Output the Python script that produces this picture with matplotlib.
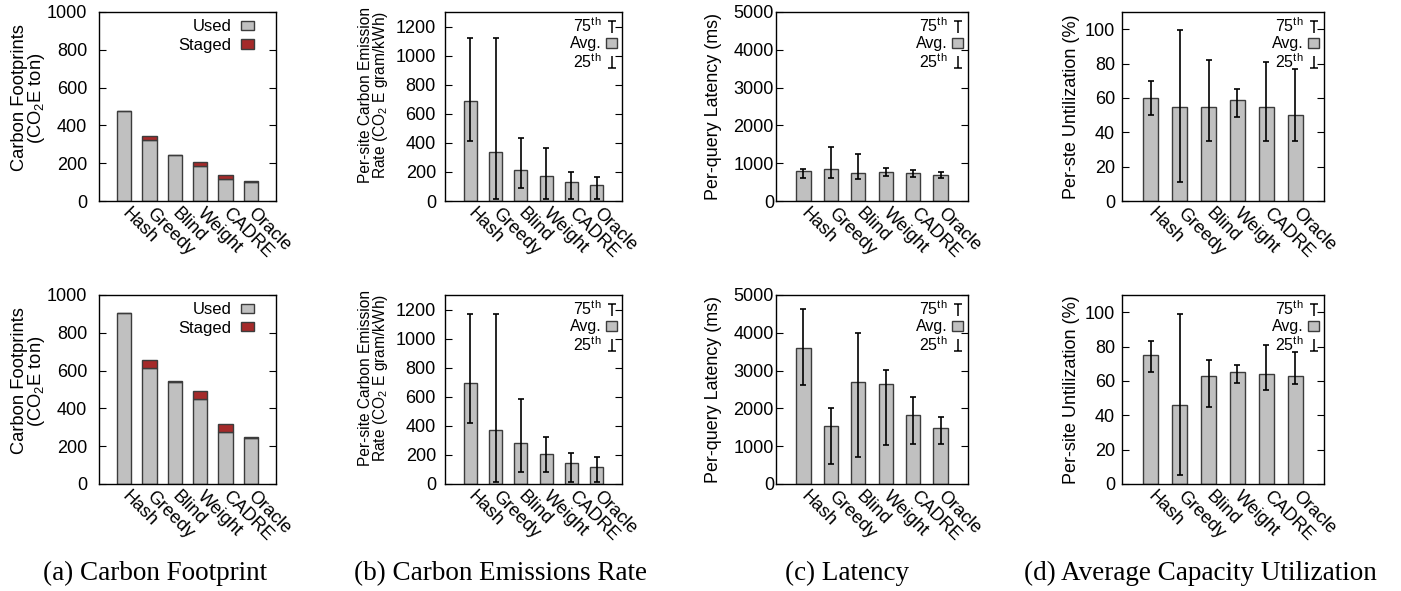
import numpy as np
import matplotlib.pyplot as plt
from matplotlib.patches import Patch
from matplotlib.lines import Line2D
from matplotlib.path import Path

plt.rcParams['font.family'] = ['Liberation Sans', 'DejaVu Sans']
plt.rcParams['mathtext.fontset'] = 'custom'
plt.rcParams['mathtext.rm'] = 'Liberation Sans'
plt.rcParams['mathtext.it'] = 'Liberation Sans:italic'

cats = ['Hash', 'Greedy', 'Blind', 'Weight', 'CADRE', 'Oracle']

# (a) carbon footprint, top and bottom rows
used_top = [475, 325, 241, 187, 115, 103]
staged_top = [2, 18, 3, 20, 20, 5]
used_bot = [903, 614, 540, 450, 274, 244]
staged_bot = [3, 44, 3, 42, 43, 5]

# (b) carbon emission rate
rate_avg_top = [691, 338, 212, 171, 128, 107]
rate_p75_top = [1120, 1120, 436, 365, 198, 164]
rate_p25_top = [410, 16, 87, 16, 16, 16]
rate_avg_bot = [694, 368, 280, 207, 147, 115]
rate_p75_bot = [1166, 1166, 586, 322, 216, 184]
rate_p25_bot = [423, 11, 83, 83, 11, 11]

# (c) latency
lat_avg_top = [795, 848, 733, 777, 733, 689]
lat_p75_top = [838, 1440, 1245, 883, 813, 777]
lat_p25_top = [618, 620, 583, 671, 636, 618]
lat_avg_bot = [3602, 1540, 2708, 2637, 1832, 1469]
lat_p75_bot = [4620, 2009, 4000, 3018, 2292, 1770]
lat_p25_bot = [2620, 540, 717, 1035, 1053, 1053]

# (d) utilization
util_avg_top = [60, 54.5, 55, 58.5, 54.5, 50]
util_p75_top = [70, 99.4, 82, 65, 81, 77]
util_p25_top = [50, 11, 35, 49, 35, 35]
util_avg_bot = [75, 46, 63, 65, 64, 63]
util_p75_bot = [83, 99, 72, 69, 81, 77]
util_p25_bot = [65, 5, 45, 59, 55, 58]

captions = ['(a) Carbon Footprint', '(b) Carbon Emissions Rate',
            '(c) Latency', '(d) Average Capacity Utilization']

GRAY = '#c0c0c0'
EDGE = '#3c3c3c'
RED = '#a52a2a'
TICK_FS = 13
LEG_FS = 11.5

W, H = 1401, 591
x = np.arange(len(cats))

# T and inverted T marker shapes for the percentile legend
t_marker = Path([(-0.8, 1), (0.8, 1), (0, 1), (0, -1)],
                [Path.MOVETO, Path.LINETO, Path.MOVETO, Path.LINETO])
bt_marker = Path([(-0.8, -1), (0.8, -1), (0, -1), (0, 1)],
                 [Path.MOVETO, Path.LINETO, Path.MOVETO, Path.LINETO])


def make_axes(fig, x0, x1, y0, y1, ypad):
    ax = fig.add_axes([x0 / W, 1 - y1 / H, (x1 - x0) / W, (y1 - y0) / H])
    ax.set_xlim(-1, 6)
    ax.tick_params(axis='y', direction='in', right=True, length=5, labelsize=TICK_FS, pad=ypad)
    ax.tick_params(axis='x', length=0, pad=7)
    ax.set_xticks(x)
    ax.set_xticklabels(cats, rotation=-45, ha='left', va='center', rotation_mode='anchor',
                       fontsize=13)
    for s in ax.spines.values():
        s.set_linewidth(1.0)
    return ax


def footprint_panel(ax, used, staged):
    ax.bar(x, used, width=0.57, color=GRAY, edgecolor=EDGE, linewidth=1.0)
    ax.bar(x, staged, bottom=used, width=0.57, color=RED, edgecolor=EDGE, linewidth=1.0)
    ax.set_ylim(0, 1000)
    ax.set_yticks(np.arange(0, 1001, 200))
    ax.set_ylabel('Carbon Footprints\n(CO$_2$E ton)', fontsize=13.2, linespacing=0.85)
    ax.yaxis.set_label_coords(-0.293, 0.545)
    handles = [Patch(facecolor=GRAY, edgecolor=EDGE), Patch(facecolor=RED, edgecolor=EDGE)]
    ax.legend(handles, ['Used', 'Staged'], loc='upper right', frameon=False, markerfirst=False,
              fontsize=12, handlelength=0.75, handleheight=0.5, handletextpad=0.6,
              labelspacing=0.2, borderaxespad=0.0, borderpad=0.2,
              bbox_to_anchor=(1 - 19 / 177, 1 - 4 / 189))


def error_panel(ax, avg, p25, p75, ymax, step, label, lab_fs, lab_x, lab_y):
    avg = np.array(avg)
    err = [avg - np.array(p25), np.array(p75) - avg]
    ax.bar(x, avg, width=0.52, color=GRAY, edgecolor=EDGE, linewidth=1.0)
    ax.errorbar(x, avg, yerr=err, fmt='none', ecolor='black', elinewidth=1.2,
                capsize=2.5, capthick=1.2)
    ax.set_ylim(0, ymax)
    ax.set_yticks(np.arange(0, ymax + 1, step))
    ax.set_ylabel(label, fontsize=lab_fs, linespacing=0.9)
    ax.yaxis.set_label_coords(lab_x, lab_y)
    handles = [Line2D([], [], color='black', marker=t_marker, markersize=8, linestyle='none',
                      markeredgewidth=1.1),
               Patch(facecolor=GRAY, edgecolor=EDGE),
               Line2D([], [], color='black', marker=bt_marker, markersize=8, linestyle='none',
                      markeredgewidth=1.1)]
    ax.legend(handles, ['75$^{\\mathrm{th}}$', 'Avg.', '25$^{\\mathrm{th}}$'], loc='upper right',
              frameon=False, markerfirst=False, fontsize=LEG_FS, handlelength=0.7,
              handleheight=0.6, handletextpad=0.25, labelspacing=0.05, borderaxespad=0.1,
              borderpad=0.2)


fig = plt.figure(figsize=(W / 100, H / 100), dpi=100)

rows = [(12, 201), (295, 484)]
cols = [(99, 276), (445, 622), (776, 968), (1122, 1324)]
rate_label = 'Per-site Carbon Emission\nRate (CO$_2$ E gram/kWh)'

for r, (y0, y1) in enumerate(rows):
    ax = make_axes(fig, cols[0][0], cols[0][1], y0, y1, 8.5)
    if r == 0:
        footprint_panel(ax, used_top, staged_top)
    else:
        footprint_panel(ax, used_bot, staged_bot)

    ax = make_axes(fig, cols[1][0], cols[1][1], y0, y1, 6.5)
    if r == 0:
        error_panel(ax, rate_avg_top, rate_p25_top, rate_p75_top, 1300, 200,
                    rate_label, 11.2, -0.31, 0.56)
    else:
        error_panel(ax, rate_avg_bot, rate_p25_bot, rate_p75_bot, 1300, 200,
                    rate_label, 11.2, -0.31, 0.56)
    ax.set_yticks(np.arange(0, 1201, 200))

    ax = make_axes(fig, cols[2][0], cols[2][1], y0, y1, 1.5)
    if r == 0:
        error_panel(ax, lat_avg_top, lat_p25_top, lat_p75_top, 5000, 1000,
                    'Per-query Latency (ms)', 12.9, -0.281, 0.5)
    else:
        error_panel(ax, lat_avg_bot, lat_p25_bot, lat_p75_bot, 5000, 1000,
                    'Per-query Latency (ms)', 12.9, -0.281, 0.5)

    ax = make_axes(fig, cols[3][0], cols[3][1], y0, y1, 5)
    if r == 0:
        error_panel(ax, util_avg_top, util_p25_top, util_p75_top, 110, 20,
                    'Per-ste Untilization (%)', 13, -0.21, 0.5)
    else:
        error_panel(ax, util_avg_bot, util_p25_bot, util_p75_bot, 110, 20,
                    'Per-site Untilization (%)', 13, -0.21, 0.5)
    ax.set_yticks(np.arange(0, 101, 20))

cap_x = [155, 501, 847, 1200]
for cx, text in zip(cap_x, captions):
    fig.text(cx / W, 1 - 580 / H, text, ha='center', va='baseline',
             family=['Liberation Serif', 'DejaVu Serif'], fontsize=19.5)

fig.savefig('out.png', dpi=100)
